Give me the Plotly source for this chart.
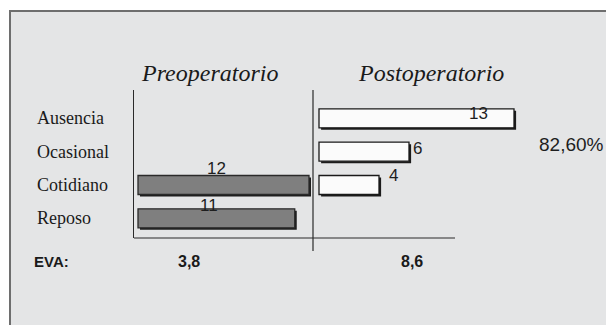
import plotly.graph_objects as go

# ---- data ----
categories = ["Ausencia", "Ocasional", "Cotidiano", "Reposo"]
pre_values = [None, None, 12, 11]
post_values = [13, 6, 4, None]
panel_titles = ["Preoperatorio", "Postoperatorio"]
eva_label = "EVA:"
eva_values = ["3,8", "8,6"]
post_percent = "82,60%"

W, H = 606, 325
def px(x): return x / W
def py(y): return 1 - y / H

BG = "#e4e5e6"
BAR_W = 0.57

fig = go.Figure()

def add_bars(vals, xaxis, fill, border):
    # drop shadow
    fig.add_trace(go.Bar(
        y=categories, x=vals, orientation="h", base=0.14,
        width=BAR_W, offset=-BAR_W / 2 - 0.06,
        marker=dict(color="#1c1c1c", line=dict(width=0)),
        xaxis=xaxis, yaxis="y", showlegend=False, hoverinfo="skip"))
    fig.add_trace(go.Bar(
        y=categories, x=vals, orientation="h",
        width=BAR_W, offset=-BAR_W / 2,
        marker=dict(color=fill, line=dict(color=border, width=1.3)),
        xaxis=xaxis, yaxis="y", showlegend=False))

add_bars(pre_values, "x", "#7f7f7f", "#2a2a2a")
add_bars(post_values, "x2", "#fbfbfb", "#1a1a1a")

# value labels
pre_shift = {2: (-7, 17), 3: (-7, 13)}
for i, v in enumerate(pre_values):
    if v is None:
        continue
    xs, ys = pre_shift[i]
    fig.add_annotation(x=v / 2, y=categories[i], xref="x", yref="y",
                       text=str(v), showarrow=False, xanchor="center", yanchor="middle",
                       xshift=xs, yshift=ys,
                       font=dict(family="Liberation Sans", size=17, color="#1e1e1e"))

post_shift = {0: ("right", -24, 5), 1: ("left", 2, 3), 2: ("left", 8, 10)}
for i, v in enumerate(post_values):
    if v is None:
        continue
    anc, xs, ys = post_shift[i]
    fig.add_annotation(x=v, y=categories[i], xref="x2", yref="y",
                       text=str(v), showarrow=False, xanchor=anc, yanchor="middle",
                       xshift=xs, yshift=ys,
                       font=dict(family="Liberation Sans", size=17, color="#1e1e1e"))

# category labels (left aligned)
for c in categories:
    fig.add_annotation(x=px(35), y=c, xref="paper", yref="y", text=c,
                       showarrow=False, xanchor="left", yanchor="middle",
                       font=dict(family="Liberation Serif", size=18, color="#1a1a1a"))

# panel titles
for t, cx in zip(panel_titles, [209.5, 430.5]):
    fig.add_annotation(x=px(cx), y=py(73), xref="paper", yref="paper",
                       text=f"<i>{t}</i>", showarrow=False,
                       xanchor="center", yanchor="middle",
                       font=dict(family="Liberation Serif", size=24, color="#1a1a1a"))

# EVA row
fig.add_annotation(x=px(32), y=py(261), xref="paper", yref="paper", text=f"<b>{eva_label}</b>",
                   showarrow=False, xanchor="left", yanchor="middle",
                   font=dict(family="Liberation Sans", size=15, color="#1a1a1a"))
for t, cx in zip(eva_values, [189, 412]):
    fig.add_annotation(x=px(cx), y=py(261), xref="paper", yref="paper", text=f"<b>{t}</b>",
                       showarrow=False, xanchor="center", yanchor="middle",
                       font=dict(family="Liberation Sans", size=16, color="#1a1a1a"))

fig.add_annotation(x=px(537), y=py(144), xref="paper", yref="paper", text=post_percent,
                   showarrow=False, xanchor="left", yanchor="middle",
                   font=dict(family="Liberation Sans", size=19, color="#1e1e1e"))

shapes = [
    # frame
    dict(type="rect", xref="paper", yref="paper", x0=px(10), x1=1.05, y0=-0.05, y1=py(11),
         fillcolor=BG, line=dict(color="#6e6e6e", width=2), layer="below"),
    # middle divider
    dict(type="line", xref="paper", yref="paper", x0=px(313), x1=px(313), y0=py(90), y1=py(251),
         line=dict(color="#2a2a2a", width=1.2)),
    # baseline
    dict(type="line", xref="paper", yref="paper", x0=px(134), x1=px(455), y0=py(238), y1=py(238),
         line=dict(color="#2a2a2a", width=1.2)),
]

fig.update_layout(
    width=W, height=H, margin=dict(l=0, r=0, t=0, b=0),
    paper_bgcolor="white", plot_bgcolor="rgba(0,0,0,0)",
    barmode="overlay", shapes=shapes,
    xaxis=dict(domain=[px(134), px(313)], range=[-4 / 14.25, (313 - 138) / 14.25],
               visible=False, fixedrange=True),
    xaxis2=dict(domain=[px(313), px(560)], range=[-6 / 15.0, (560 - 319) / 15.0],
                anchor="y", visible=False, fixedrange=True),
    yaxis=dict(domain=[py(238), py(90)], type="category",
               categoryorder="array", categoryarray=categories[::-1],
               range=[-0.59, 3.85], showticklabels=False, ticks="",
               showgrid=False, zeroline=False, showline=True,
               linecolor="#2a2a2a", linewidth=1.2, anchor="x", fixedrange=True),
)

fig.write_html("out.html", config={"displayModeBar": False},
               post_script="document.body.style.margin='0';document.body.style.overflow='hidden';")
